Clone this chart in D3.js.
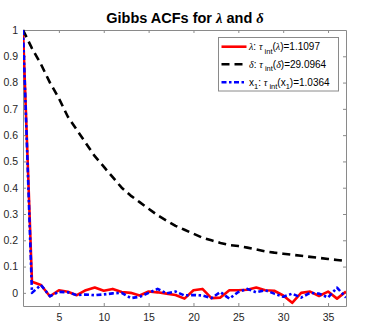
<!DOCTYPE html>
<html>
<head>
<meta charset="utf-8">
<script src="https://cdn.jsdelivr.net/npm/d3@7"></script>
<style>
  body { margin: 0; background: #fff; }
  text { font-family: "Liberation Sans", Arial, sans-serif; }
</style>
</head>
<body>
<svg id="chart" width="374" height="330"></svg>
<script>
"use strict";

// lags 1..37
var lags = d3.range(1, 38);

var lambdaAcf = [1, 0.042, 0.03, -0.013, 0.01, 0.004, -0.009, 0.01, 0.02, 0.008,
  0.015, 0.003, 0, -0.01, 0.005, 0.002, -0.003, -0.008, -0.022, 0.01,
  0.015, -0.02, -0.018, 0.01, 0.01, 0.012, 0.02, 0.01, 0.008, -0.01,
  -0.038, 0, 0.005, -0.012, 0.005, -0.022, 0.005];

var deltaAcf = [1, 0.93, 0.87, 0.80, 0.74, 0.67, 0.62, 0.57, 0.52, 0.48,
  0.44, 0.40, 0.37, 0.345, 0.32, 0.295, 0.275, 0.255, 0.24, 0.225,
  0.21, 0.20, 0.19, 0.182, 0.178, 0.172, 0.165, 0.158, 0.153, 0.149,
  0.145, 0.141, 0.137, 0.133, 0.129, 0.125, 0.121];

var x1Acf = [1, 0, 0.03, -0.013, 0.004, 0.002, -0.009, -0.006, -0.009, -0.006,
  -0.002, 0, -0.02, -0.015, 0, 0.015, -0.002, 0.005, -0.01, -0.008,
  -0.01, -0.02, 0.003, -0.022, 0.003, 0.015, 0.002, 0.01, -0.003, -0.015,
  -0.003, -0.018, 0, -0.003, -0.018, 0.02, -0.018];

var xTicks = [5, 10, 15, 20, 25, 30, 35];
var yTicks = [0, 0.1, 0.2, 0.3, 0.4, 0.5, 0.6, 0.7, 0.8, 0.9, 1];

// legend pieces: [text, kind] with kind n=normal, g=greek italic, s=subscript
var legendParts = [
  [["λ", "g"], [": ", "n"], ["τ", "g"], [" int", "s"], ["(", "n"], ["λ", "g"], [")=1.1097", "n"]],
  [["δ", "g"], [": ", "n"], ["τ", "g"], [" int", "s"], ["(", "n"], ["δ", "g"], [")=29.0964", "n"]],
  [["x", "n"], ["1", "s"], [": ", "n"], ["τ", "g"], [" int", "s"], ["(x", "n"], ["1", "s"], [")=1.0364", "n"]]
];

var series = [
  { values: lambdaAcf, color: "#ff0000", dash: null },
  { values: deltaAcf, color: "#000000", dash: "8,5" },
  { values: x1Acf, color: "#0000ff", dash: "5,2.5,2.5,2.5" }
];

var svg = d3.select("#chart");
var mLeft = 23, mRight = 346, mTop = 30, mBottom = 306;

var x = d3.scaleLinear().domain([1, 37]).range([mLeft, mRight]);
var y = d3.scaleLinear().domain([-0.05, 1]).range([mBottom, mTop]);

var axisColor = "#262626";
var tickFont = 10.5;

// axes: ticks inward on all four sides
var g = svg.append("g");
g.append("g")
  .attr("transform", "translate(0," + mBottom + ")")
  .call(d3.axisBottom(x).tickValues(xTicks).tickSizeInner(-3).tickSizeOuter(0).tickPadding(8));
g.append("g")
  .attr("transform", "translate(0," + mTop + ")")
  .call(d3.axisTop(x).tickValues(xTicks).tickSizeInner(-3).tickSizeOuter(0).tickFormat(""));
g.append("g")
  .attr("transform", "translate(" + mLeft + ",0)")
  .call(d3.axisLeft(y).tickValues(yTicks).tickSizeInner(-3).tickSizeOuter(0).tickPadding(5)
    .tickFormat(function(d) { return d3.format("~g")(d); }));
g.append("g")
  .attr("transform", "translate(" + mRight + ",0)")
  .call(d3.axisRight(y).tickValues(yTicks).tickSizeInner(-3).tickSizeOuter(0).tickFormat(""));

g.selectAll(".domain").attr("stroke", "#8a8a8a").attr("stroke-width", 1);
g.selectAll(".tick line").attr("stroke", "#8a8a8a");
g.selectAll(".tick text")
  .attr("fill", axisColor)
  .style("font-size", tickFont + "px")
  .style("font-family", "'Liberation Sans', Arial, sans-serif");

// lines
var line = d3.line()
  .x(function(d, i) { return x(lags[i]); })
  .y(function(d) { return y(d); });

svg.append("defs").append("clipPath").attr("id", "clip")
  .append("rect").attr("x", mLeft).attr("y", mTop - 2).attr("width", mRight - mLeft).attr("height", mBottom - mTop + 2);

var plot = svg.append("g").attr("clip-path", "url(#clip)");
series.forEach(function(s) {
  plot.append("path")
    .datum(s.values)
    .attr("d", line)
    .attr("fill", "none")
    .attr("stroke", s.color)
    .attr("stroke-width", 2.6)
    .attr("stroke-linejoin", "round")
    .attr("stroke-dasharray", s.dash);
});

// title
var title = svg.append("text")
  .attr("x", 185)
  .attr("y", 23)
  .attr("text-anchor", "middle")
  .style("font-size", "14.5px")
  .style("font-weight", "bold")
  .attr("fill", "#000");
title.append("tspan").text("Gibbs ACFs for ");
title.append("tspan").style("font-family", "'Liberation Serif', serif").style("font-style", "italic").text("λ");
title.append("tspan").text(" and ");
title.append("tspan").style("font-family", "'Liberation Serif', serif").style("font-style", "italic").text("δ");

// legend
var legend = svg.append("g");
legend.append("rect")
  .attr("x", 218.5).attr("y", 37.5)
  .attr("width", 120).attr("height", 53.5)
  .attr("fill", "#fff")
  .attr("stroke", "#8a8a8a")
  .attr("stroke-width", 1);

var rowY = [46.7, 64.3, 82.3];
series.forEach(function(s, i) {
  legend.append("line")
    .attr("x1", 221.5).attr("x2", 246.5)
    .attr("y1", rowY[i]).attr("y2", rowY[i])
    .attr("stroke", s.color)
    .attr("stroke-width", 2.6)
    .attr("stroke-dasharray", s.dash);

  var t = legend.append("text")
    .attr("x", 249)
    .attr("y", rowY[i] + 3.5)
    .style("font-size", "10px")
    .attr("fill", "#000");
  var shifted = 0;
  legendParts[i].forEach(function(p) {
    var ts = t.append("tspan").text(p[0]);
    var want = p[1] === "s" ? 3.5 : 0;
    if (want !== shifted) { ts.attr("dy", want - shifted); shifted = want; }
    if (p[1] === "s") ts.style("font-size", "7.5px");
    if (p[1] === "g") ts.style("font-family", "'Liberation Serif', serif").style("font-style", "italic");
  });
});
</script>
</body>
</html>
